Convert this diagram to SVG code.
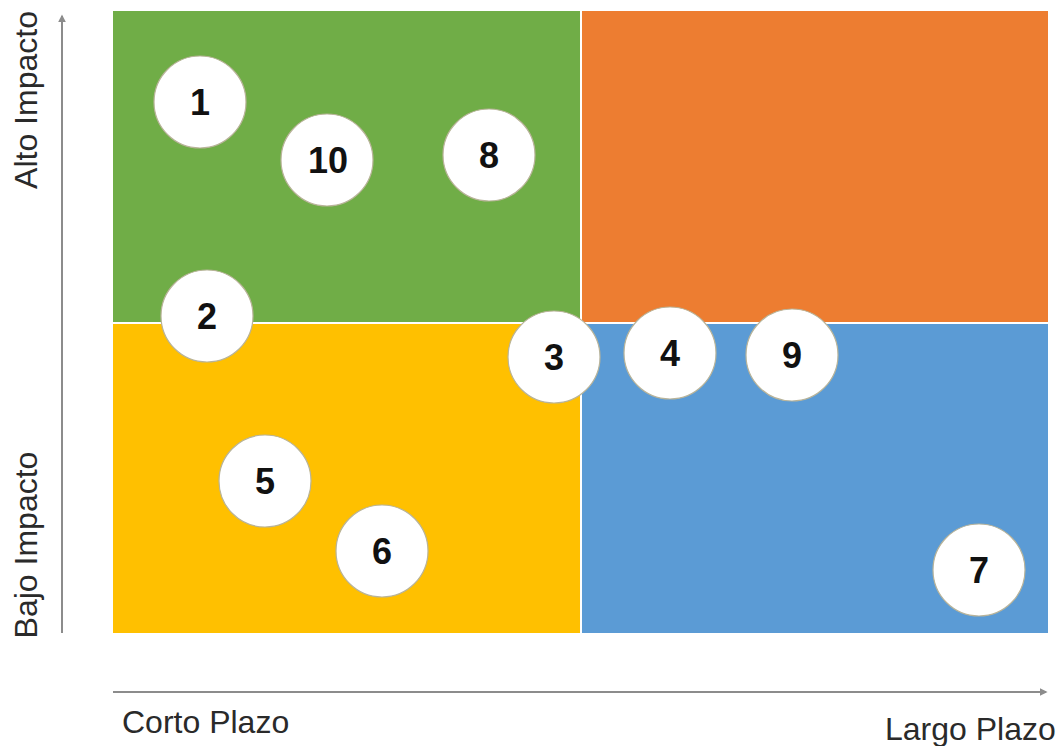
<svg xmlns="http://www.w3.org/2000/svg" width="1060" height="746" viewBox="0 0 1060 746">
<style>
.q{stroke:none}
.c{fill:#fff;stroke:#b9b49a;stroke-width:1.2}
.n{font-family:"Liberation Sans",Arial,sans-serif;font-weight:bold;font-size:36px;fill:#111;text-anchor:middle}
.lab{font-family:"Liberation Sans",Arial,sans-serif;font-size:32px;fill:#2a2a2a}
.ax{stroke:#8c8c8c;stroke-width:2;fill:none}
</style>
<defs>
<marker id="ah" viewBox="0 0 10 10" refX="8" refY="5" markerWidth="4" markerHeight="4" orient="auto"><path d="M0,0 L10,5 L0,10 z" fill="#8c8c8c"/></marker>
</defs>
<rect width="1060" height="746" fill="#fff"/>
<g id="quadrants">
<rect class="q" x="113" y="11" width="467" height="311" fill="#70AD47"/>
<rect class="q" x="582" y="11" width="466" height="311" fill="#ED7D31"/>
<rect class="q" x="113" y="324" width="467" height="309" fill="#FFC000"/>
<rect class="q" x="582" y="324" width="466" height="309" fill="#5B9BD5"/>
</g>
<g id="connectors">
<line class="ax" x1="62" y1="633" x2="62" y2="16" marker-end="url(#ah)"/>
<line class="ax" x1="113" y1="692" x2="1046" y2="692" marker-end="url(#ah)"/>
</g>
<g id="labels">
<text class="lab" transform="translate(37,100) rotate(-90)" text-anchor="middle">Alto Impacto</text>
<text class="lab" transform="translate(37,545) rotate(-90)" text-anchor="middle">Bajo Impacto</text>
<text class="lab" x="122" y="733">Corto Plazo</text>
<text class="lab" x="885" y="740">Largo Plazo</text>
</g>
<g id="n1"><circle class="c" cx="200" cy="102" r="46"/><text class="n" x="200" y="115">1</text></g>
<g id="n10"><circle class="c" cx="327" cy="160" r="46"/><text class="n" x="328" y="173">10</text></g>
<g id="n8"><circle class="c" cx="489" cy="155" r="46"/><text class="n" x="489" y="168">8</text></g>
<g id="n2"><circle class="c" cx="207" cy="316" r="46"/><text class="n" x="207" y="329">2</text></g>
<g id="n3"><circle class="c" cx="554" cy="357" r="46"/><text class="n" x="554" y="370">3</text></g>
<g id="n4"><circle class="c" cx="670" cy="353" r="46"/><text class="n" x="670" y="366">4</text></g>
<g id="n9"><circle class="c" cx="792" cy="355" r="46"/><text class="n" x="792" y="368">9</text></g>
<g id="n5"><circle class="c" cx="265" cy="481" r="46"/><text class="n" x="265" y="494">5</text></g>
<g id="n6"><circle class="c" cx="382" cy="551" r="46"/><text class="n" x="382" y="564">6</text></g>
<g id="n7"><circle class="c" cx="979" cy="570" r="46"/><text class="n" x="979" y="583">7</text></g>
</svg>
